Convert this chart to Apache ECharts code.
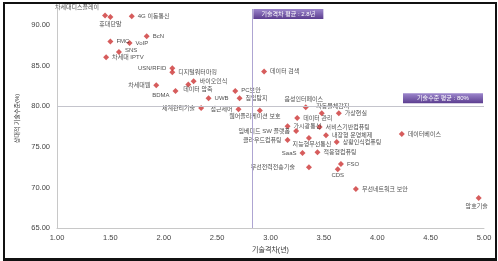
<!DOCTYPE html>
<html>
<head>
<meta charset="utf-8">
<script src="https://cdn.jsdelivr.net/npm/echarts@6/dist/echarts.min.js"></script>
<style>
html,body{margin:0;padding:0;background:#fff}
#chart{width:498px;height:261px}
.frame{position:absolute;left:3px;top:2px;width:494px;height:259px;box-sizing:border-box;border:2px solid #111;border-bottom-width:3px;pointer-events:none}
</style>
</head>
<body>
<div id="chart"></div>
<div class="frame"></div>
<script>
// 기술 항목
var techNames = ['차세대디스플레이','휴대단말','4G 이동통신','BcN','FMC','VoIP','SNS','차세대 IPTV',
  'USN/RFID','디지털워터마킹','차세대웹','BDMA','데이터 압축','바이오인식','UWB','PC보안','침입탐지',
  '데이터 검색','체계관리기술','접근제어','웹어플리케이션 보호','음성인터페이스','자동물체감지','가상현실',
  '데이터 관리','가시광통신','서비스기반컴퓨팅','임베디드 SW 플랫폼','내장형 운영체제','클라우드컴퓨팅',
  '지능형무선통신','상황인식컴퓨팅','SaaS','적응형컴퓨팅','무선전력전송기술','FSO','CDS',
  '무선네트워크 보안','암호기술','데이터베이스'];
// 기술격차(년)
var techGap = [1.45,1.50,1.70,1.84,1.50,1.68,1.58,1.46,
  2.08,2.08,1.93,2.11,2.23,2.28,2.42,2.67,2.71,
  2.94,2.35,2.70,2.90,3.33,3.48,3.64,
  3.25,3.16,3.46,3.24,3.52,3.16,
  3.36,3.62,3.30,3.44,3.36,3.66,3.63,
  3.80,4.95,4.23];
// 상대적 기술수준(%)
var techLevel = [91.2,91.0,91.1,88.65,88.0,87.8,86.7,86.05,
  84.7,84.2,82.6,81.9,82.7,83.1,81.0,81.9,81.0,
  84.3,79.8,79.65,79.5,79.9,79.15,79.15,
  78.55,77.55,77.45,76.95,76.45,75.85,
  76.1,75.6,74.25,74.35,72.5,72.9,72.25,
  69.8,68.7,76.6];
var gapMean = 2.83;
var levelMean = 80;
var gapMeanText = '기술격차 평균 : 2.8년';
var levelMeanText = '기술수준 평균 : 80%';

// 라벨 위치 [position, dx, dy]
var labelPos = {
  '차세대디스플레이':['left',0,-8],
  '휴대단말':['bottom',0,-2],
  'SNS':['right',0,-2],
  'USN/RFID':['left',0,0],
  '차세대웹':['left',0,0],
  'BDMA':['left',0,4],
  '데이터 압축':['right',-11,5],
  'PC보안':['right',0,-1],
  '체계관리기술':['left',0,0],
  '접근제어':['left',0,0],
  '웹어플리케이션 보호':['bottom',-5,-3],
  '음성인터페이스':['top',-2,1],
  '자동물체감지':['top',11,2],
  '임베디드 SW 플랫폼':['left',0,0],
  '클라우드컴퓨팅':['left',0,0],
  '지능형무선통신':['bottom',3,-3],
  'SaaS':['left',0,0],
  '무선전력전송기술':['left',-8,0],
  'CDS':['bottom',0,-3],
  '암호기술':['bottom',-2,-1]
};

var font = "'Liberation Sans','Noto Sans CJK KR',sans-serif";
var chart = echarts.init(document.getElementById('chart'));

var points = techNames.map(function(n, i){
  var p = labelPos[n] || ['right',0,0];
  return {name:n, value:[techGap[i], techLevel[i]], label:{position:p[0], offset:[p[1],p[2]]}};
});

var boxColor = new echarts.graphic.LinearGradient(0,0,0,1,[
  {offset:0,color:'#9c86cc'},{offset:1,color:'#5b3d8f'}
]);

chart.setOption({
  animation:false,
  backgroundColor:'#fff',
  grid:{left:57,right:14,top:9,bottom:33},
  xAxis:{
    type:'value',min:1,max:5,interval:0.5,
    axisLine:{lineStyle:{color:'#c8c8c8'}},
    axisTick:{show:false},
    splitLine:{show:false},
    axisLabel:{formatter:function(v){return v.toFixed(2);},fontSize:7.5,color:'#444',margin:6,fontFamily:font},
    name:'기술격차(년)',nameLocation:'middle',nameGap:19,
    nameTextStyle:{fontSize:7,color:'#333',fontFamily:font}
  },
  yAxis:{
    type:'value',min:65,max:92,interval:5,
    axisLine:{show:true,lineStyle:{color:'#c8c8c8'}},
    axisTick:{show:false},
    splitLine:{show:false},
    axisLabel:{formatter:function(v){return v % 5 === 0 ? v.toFixed(2) : '';},showMaxLabel:false,fontSize:7.5,color:'#444',margin:7,fontFamily:font},
    name:'상대적 기술수준(%)',nameLocation:'middle',nameGap:33,nameRotate:90,
    nameTextStyle:{fontSize:6,color:'#333',fontFamily:font}
  },
  series:[{
    type:'scatter',
    symbol:'diamond',
    symbolSize:6,
    itemStyle:{color:'#cc3333'},
    label:{show:true,formatter:'{b}',fontSize:6,color:'#222',distance:3,fontFamily:font},
    data:points,
    markLine:{
      silent:true,symbol:'none',
      label:{show:false},
      data:[
        {xAxis:gapMean,lineStyle:{color:'#aea5d2',width:1,type:'solid'}},
        {yAxis:levelMean,lineStyle:{color:'#c4c4cc',width:1,type:'solid'}}
      ]
    },
    markPoint:{
      silent:true,
      data:[
        {coord:[gapMean,92],symbol:'rect',symbolSize:[70,10],symbolOffset:[36,5],
          itemStyle:{color:boxColor},
          label:{show:true,position:'inside',formatter:gapMeanText,color:'#fff',fontSize:6,fontFamily:font}},
        {coord:[5,levelMean],symbol:'rect',symbolSize:[80,10],symbolOffset:[-41,-8],
          itemStyle:{color:boxColor},
          label:{show:true,position:'inside',formatter:levelMeanText,color:'#fff',fontSize:6,fontFamily:font}}
      ]
    }
  }]
});
</script>
</body>
</html>
